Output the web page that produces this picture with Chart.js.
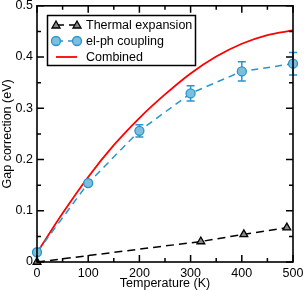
<!DOCTYPE html>
<html>
<head>
<meta charset="utf-8">
<script src="https://cdn.jsdelivr.net/npm/chart.js@4"></script>
<style>
  body { margin: 0; background: #fff; }
  canvas { display: block; }
</style>
</head>
<body>
<canvas id="myChart" width="304" height="291"></canvas>
<script>
// values
var thermalT = [0, 320, 404, 488]
var thermalGap = [0, 0.040, 0.054, 0.067]

var elphT = [0, 100, 200, 300, 400, 500]
var elphGap = [0.019, 0.154, 0.256, 0.329, 0.372, 0.387]
var elphErr = [0.003, 0.005, 0.012, 0.015, 0.019, 0.022]

var combT = [0, 50, 100, 150, 200, 250, 300, 350, 400, 450, 500]
var combGap = [0.018, 0.095, 0.166, 0.228, 0.281, 0.327, 0.368, 0.401, 0.426, 0.443, 0.452]

var blue = 'rgb(38,150,208)'
var blueFill = 'rgb(125,190,220)'
var font = 'Liberation Sans, Arial, sans-serif'

function pts(xs, ys) {
    var out = []
    for (var i = 0; i < xs.length; i++) out.push({x: xs[i], y: ys[i]})
    return out
}

// inward ticks on all four sides + frame
var frameTicks = {
    id: 'frameTicks',
    afterDraw: function(chart) {
        var ctx = chart.ctx
        var a = chart.chartArea
        var xs = chart.scales.x, ys = chart.scales.y
        ctx.save()
        ctx.strokeStyle = '#000'
        ctx.lineWidth = 1.5
        xs.ticks.forEach(function(t, i) {
            var px = xs.getPixelForTick(i)
            var len = (t.value % 100 === 0) ? 7 : 4
            ctx.beginPath()
            ctx.moveTo(px, a.bottom); ctx.lineTo(px, a.bottom - len)
            ctx.moveTo(px, a.top); ctx.lineTo(px, a.top + len)
            ctx.stroke()
        })
        ys.ticks.forEach(function(t, i) {
            var py = ys.getPixelForTick(i)
            var major = Math.abs(t.value * 10 - Math.round(t.value * 10)) < 1e-6
            var len = major ? 7 : 4
            ctx.beginPath()
            ctx.moveTo(a.left, py); ctx.lineTo(a.left + len, py)
            ctx.moveTo(a.right, py); ctx.lineTo(a.right - len, py)
            ctx.stroke()
        })
        ctx.lineWidth = 1.6
        ctx.strokeRect(a.left, a.top, a.right - a.left, a.bottom - a.top)
        ctx.restore()
    }
}

var errorBars = {
    id: 'errorBars',
    beforeDatasetsDraw: function(chart) {
        var ctx = chart.ctx
        var xs = chart.scales.x, ys = chart.scales.y
        ctx.save()
        ctx.strokeStyle = blue
        ctx.lineWidth = 1.5
        for (var i = 0; i < elphT.length; i++) {
            var px = xs.getPixelForValue(elphT[i])
            var y1 = ys.getPixelForValue(elphGap[i] + elphErr[i])
            var y2 = ys.getPixelForValue(elphGap[i] - elphErr[i])
            ctx.beginPath()
            ctx.moveTo(px, y1); ctx.lineTo(px, y2)
            ctx.moveTo(px - 4, y1); ctx.lineTo(px + 4, y1)
            ctx.moveTo(px - 4, y2); ctx.lineTo(px + 4, y2)
            ctx.stroke()
        }
        ctx.restore()
    }
}

function marker(ctx, kind, x, y) {
    ctx.beginPath()
    if (kind === 'triangle') {
        ctx.fillStyle = '#888'
        ctx.strokeStyle = '#000'
        ctx.moveTo(x, y - 4); ctx.lineTo(x + 4, y + 3); ctx.lineTo(x - 4, y + 3); ctx.closePath()
    } else {
        ctx.fillStyle = blueFill
        ctx.strokeStyle = blue
        ctx.arc(x, y, 4.5, 0, Math.PI * 2)
    }
    ctx.setLineDash([])
    ctx.lineWidth = 1.3
    ctx.fill(); ctx.stroke()
}

var boxLegend = {
    id: 'boxLegend',
    afterDraw: function(chart) {
        var ctx = chart.ctx
        var x0 = 47.5, y0 = 15.5, w = 148, h = 50
        ctx.save()
        ctx.fillStyle = '#fff'
        ctx.fillRect(x0, y0, w, h)
        ctx.strokeStyle = '#000'
        ctx.lineWidth = 1.5
        ctx.strokeRect(x0, y0, w, h)
        var rows = [25, 41, 57]
        chart.data.datasets.forEach(function(ds, i) {
            var y = rows[i]
            ctx.beginPath()
            ctx.strokeStyle = ds.borderColor
            ctx.lineWidth = ds.borderWidth
            ctx.setLineDash(ds.borderDash || [])
            ctx.moveTo(56, y); ctx.lineTo(77, y)
            ctx.stroke()
            if (ds.pointStyle === 'triangle') { marker(ctx, 'triangle', 56, y); marker(ctx, 'triangle', 77, y) }
            if (ds.pointStyle === 'circle') { marker(ctx, 'circle', 56, y); marker(ctx, 'circle', 77, y) }
            ctx.fillStyle = '#000'
            ctx.font = '12.5px ' + font
            ctx.textBaseline = 'middle'
            ctx.fillText(ds.label, 86, y + 1)
        })
        ctx.restore()
    }
}

var ctx = document.getElementById('myChart').getContext('2d')
var chart = new Chart(ctx, {
    type: 'line',
    data: {
        datasets: [{
            label: 'Thermal expansion',
            data: pts(thermalT, thermalGap),
            borderColor: '#000',
            borderWidth: 1.5,
            borderDash: [8, 5],
            pointStyle: 'triangle',
            pointRadius: 4.5,
            pointBackgroundColor: '#888',
            pointBorderColor: '#000',
            pointBorderWidth: 1.3,
            fill: false
        }, {
            label: 'el-ph coupling',
            data: pts(elphT, elphGap),
            borderColor: blue,
            borderWidth: 1.5,
            borderDash: [7, 5],
            pointStyle: 'circle',
            pointRadius: 4.5,
            pointBackgroundColor: blueFill,
            pointBorderColor: blue,
            pointBorderWidth: 1.3,
            fill: false
        }, {
            label: 'Combined',
            data: pts(combT, combGap),
            borderColor: 'rgb(255,0,0)',
            borderWidth: 1.8,
            pointRadius: 0,
            cubicInterpolationMode: 'monotone',
            fill: false
        }]
    },
    options: {
        responsive: false,
        animation: false,
        devicePixelRatio: 1,
        clip: false,
        layout: { padding: { top: 5, right: 11, left: 0, bottom: 0 } },
        plugins: { legend: { display: false }, tooltip: { enabled: false } },
        scales: {
            x: {
                type: 'linear', min: 0, max: 500,
                grid: { display: false, drawTicks: false },
                border: { display: false },
                ticks: {
                    stepSize: 50, padding: 4, color: '#000', maxRotation: 0, autoSkip: false,
                    font: { family: font, size: 12.5 },
                    callback: function(v) { return v % 100 === 0 ? String(v) : '' }
                },
                title: { display: true, text: 'Temperature (K)', color: '#000', font: { family: font, size: 12.5 }, padding: 0 },
                afterFit: function(s) { s.height = 29; s.paddingLeft = 0; s.paddingRight = 0 }
            },
            y: {
                min: 0, max: 0.5,
                grid: { display: false, drawTicks: false },
                border: { display: false },
                ticks: {
                    stepSize: 0.05, padding: 4, color: '#000', autoSkip: false,
                    font: { family: font, size: 12.5 },
                    callback: function(v) {
                        var r = Math.round(v * 10)
                        if (Math.abs(v * 10 - r) > 1e-6) return ''
                        return r === 0 ? '0' : (r / 10).toFixed(1)
                    }
                },
                title: { display: true, text: 'Gap correction (eV)', color: '#000', font: { family: font, size: 12.5 }, padding: 0 },
                afterFit: function(s) { s.width = 37; s.paddingTop = 0; s.paddingBottom = 0 }
            }
        }
    },
    plugins: [errorBars, frameTicks, boxLegend]
})
</script>
</body>
</html>
